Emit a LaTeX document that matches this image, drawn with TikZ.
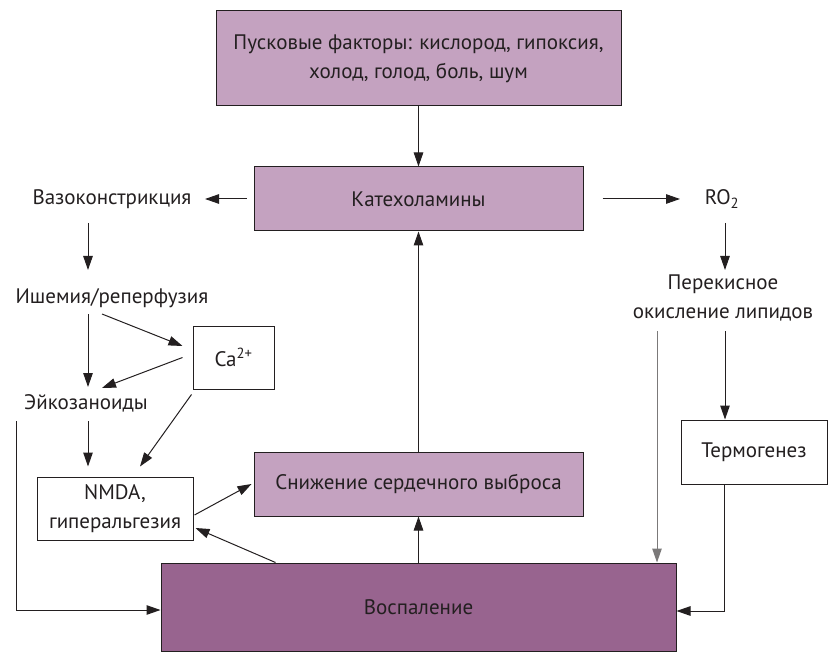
\documentclass[tikz,border=0pt]{standalone}
\usepackage{fontspec}
\setmainfont{PT Sans}
\usepackage{tikz}
\usetikzlibrary{arrows.meta,calc}

\definecolor{lilac}{HTML}{C4A2C0}
\definecolor{plum}{HTML}{98648F}
\definecolor{ink}{HTML}{231F20}

\begin{document}
\begin{tikzpicture}[x=1pt, y=-1pt,
      font=\fontsize{21}{29}\selectfont, text=ink,
      block_light/.style ={rectangle, draw=ink, line width=1pt, fill=lilac,
        align=center, minimum width=329pt, minimum height=64pt},
      block_dark/.style ={rectangle, draw=ink, line width=1pt, fill=plum,
        align=center, minimum width=515pt, minimum height=88pt},
      block_white/.style ={rectangle, draw=ink, line width=1pt, fill=white,
        align=center, minimum height=63pt},
      block_noborder/.style ={rectangle, draw=none, fill=none,
        align=center, inner sep=0pt},
      line/.style ={draw=ink, line width=1pt, -{Triangle[length=14pt,width=9.5pt]}}]
    \useasboundingbox (0,0) rectangle (833,655);
    %
    % 1. placing the nodes
    % top row
    \node [block_light, minimum width=405pt, minimum height=95pt] (trigger) at (418.5,58.5)
      {Пусковые факторы: кислород, гипоксия,\\холод, голод, боль, шум};
    % middle row
    \node [block_light] (catechol) at (418.5,199) {Катехоламины};
    \node [block_noborder] (vasocon) at (112,199) {Вазоконстрикция};
    \node [block_noborder] (ro2) at (722,199) {RO\textsubscript{2}};
    % left column
    \node [block_noborder] (ischemia) at (112,298) {Ишемия/реперфузия};
    \node [block_white, minimum width=81pt] (calcium) at (233.5,357.5) {Ca\textsuperscript{2+}};
    \node [block_noborder] (eicos) at (86,403) {Эйкозаноиды};
    \node [block_white, minimum width=156pt] (nmda) at (115,508.5) {NMDA,\\гиперальгезия};
    % right column
    \node [block_noborder] (perox) at (723,298) {Перекисное\\окисление липидов};
    \node [block_white, minimum width=146pt, minimum height=64pt] (thermo) at (754,452) {Термогенез};
    % bottom rows
    \node [block_light] (output) at (418.5,484) {Снижение сердечного выброса};
    \node [block_dark] (inflam) at (418.5,607) {Воспаление};
    %
    %
    % 2. connecting nodes with paths
    \begin{scope}[every path/.style=line]
      % from the top
      \path (trigger) -- (catechol);
      \path ($(catechol.west)+(-7,0)$) -- ($(vasocon)+(93,0)$);
      \path ($(catechol.east)+(19,0)$) -- ($(ro2)+(-42,0)$);
      % left column
      \path ($(vasocon)+(-24,24)$) -- ($(ischemia)+(-24,-28)$);
      \path ($(ischemia)+(-24,16)$) -- ($(eicos)+(2,-16)$);
      \path ($(ischemia)+(-10,16)$) -- ($(calcium.west)+(-10,-11.5)$);
      \path ($(calcium.west)+(-10,0)$) -- ($(eicos)+(16,-15)$);
      \path ($(calcium.south west)+(-1,5)$) -- ($(nmda.north)+(25,-10)$);
      \path ($(eicos)+(2,18)$) -- ($(nmda.north)+(-27,-10)$);
      \path ($(eicos)+(-70,18)$) |- ($(inflam.west)+(0,3)$);
      %
      \path ($(nmda.east)+(1,6.5)$) -- ($(output.west)+(-2,0)$);
      \path ($(inflam.north west)+(115,0)$) -- ($(nmda.east)+(2,19.5)$);
      \path (inflam) -- (output);
      \path (output) -- (catechol);
      % right column
      \path ($(ro2)+(3,24)$) -- ($(perox)+(2,-28)$);
      \path ($(perox)+(2,33)$) -- ($(thermo.north)+(-29,0)$);
      \path [draw=ink!60] ($(perox)+(-66,33)$) -- ($(inflam.north)+(238.5,0)$);
      \path ($(thermo.south)+(-30,0)$) |- ($(inflam.east)+(0,4)$);
    \end{scope}
  \end{tikzpicture}
\end{document}
